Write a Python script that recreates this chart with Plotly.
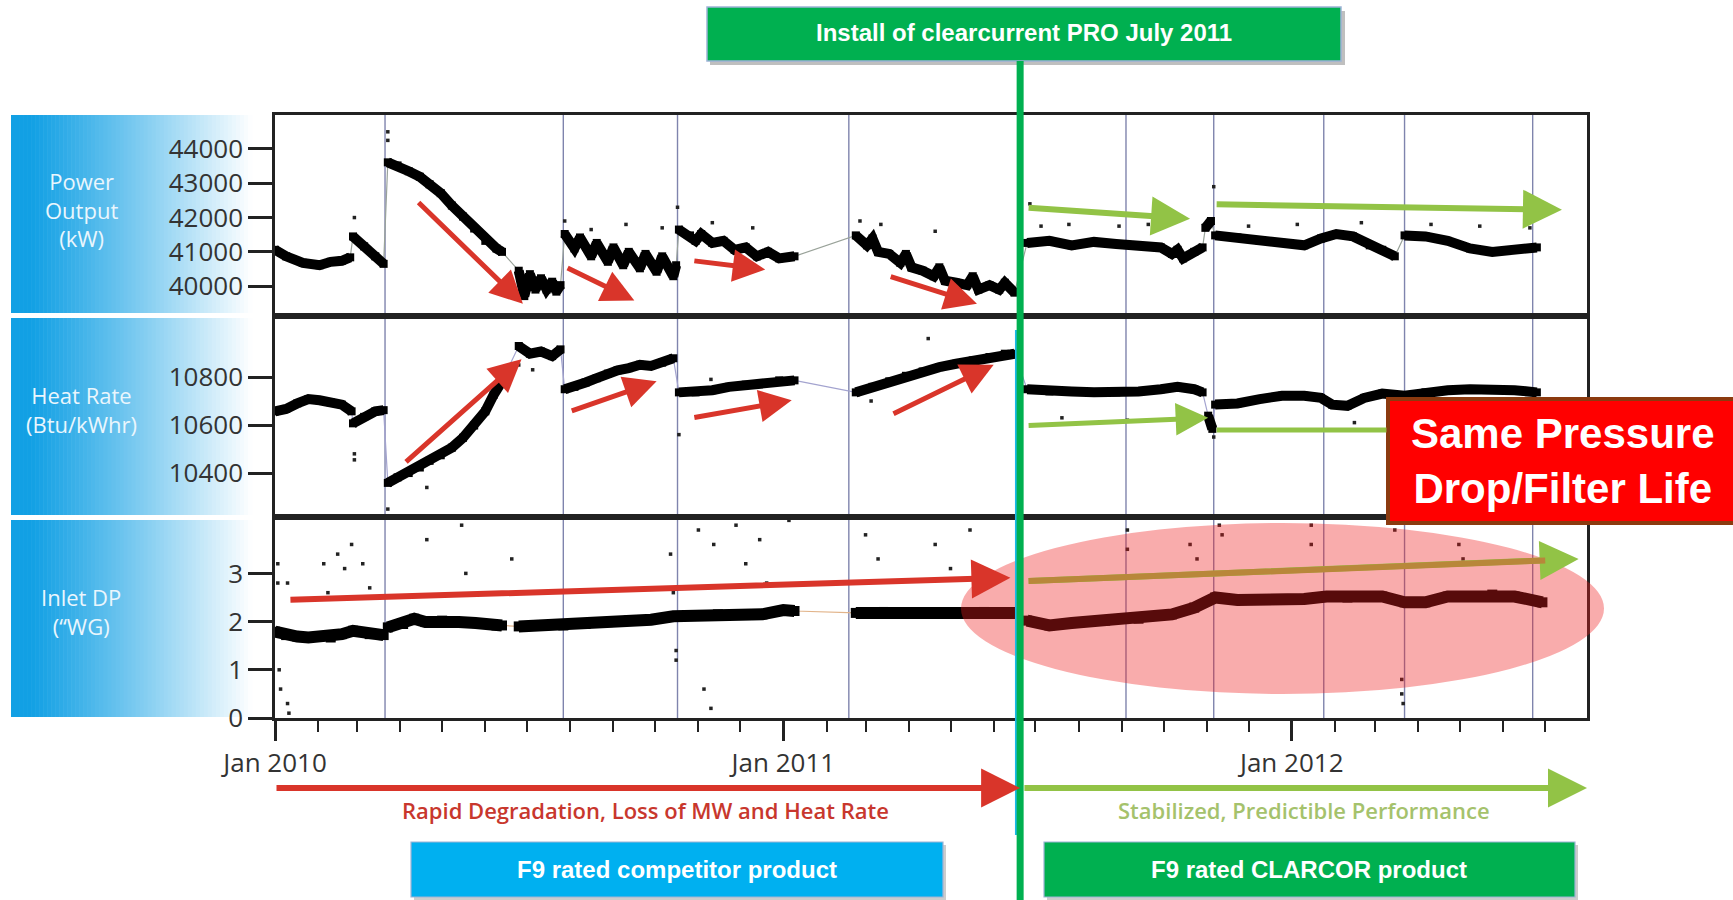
import plotly.graph_objects as go
from plotly.subplots import make_subplots

# ---------------- DATA ----------------
power_dates = [
    "2010-01-01", "2010-01-09", "2010-01-21", "2010-02-02", "2010-02-10", "2010-02-18", "2010-02-24", None,
    "2010-02-26", "2010-03-06", "2010-03-14", "2010-03-20", None,
    "2010-03-23", "2010-03-30", "2010-04-07", "2010-04-15", "2010-04-22", "2010-04-30", "2010-05-08",
    "2010-05-16", "2010-05-24", "2010-06-01", "2010-06-09", "2010-06-13", None,
    "2010-06-25", "2010-06-29", "2010-07-03", "2010-07-07", "2010-07-11", "2010-07-15", "2010-07-19",
    "2010-07-22", "2010-07-25", None,
    "2010-07-28", "2010-08-04", "2010-08-08", "2010-08-16", "2010-08-20", "2010-08-28", "2010-09-01",
    "2010-09-08", "2010-09-12", "2010-09-20", "2010-09-24", "2010-10-02", "2010-10-06", "2010-10-14",
    "2010-10-16", None,
    "2010-10-18", "2010-10-26", "2010-10-30", "2010-11-03", "2010-11-11", "2010-11-19", "2010-11-27",
    "2010-12-05", "2010-12-13", "2010-12-21", "2010-12-29", "2011-01-09", None,
    "2011-02-22", "2011-03-02", "2011-03-06", "2011-03-10", "2011-03-18", "2011-03-26", "2011-03-30",
    "2011-04-03", "2011-04-11", "2011-04-19", "2011-04-23", "2011-04-27", "2011-05-05", "2011-05-13",
    "2011-05-17", "2011-05-21", "2011-05-29", "2011-06-05", "2011-06-09", "2011-06-16", None,
    "2011-06-25", "2011-07-11", "2011-07-27", "2011-08-12", "2011-08-28", "2011-09-13", "2011-09-29",
    "2011-10-07", "2011-10-11", "2011-10-15", "2011-10-23", "2011-10-29", None,
    "2011-10-31", "2011-11-04", None,
    "2011-11-07", "2011-11-23", "2011-12-09", "2011-12-25", "2012-01-10", "2012-01-22", "2012-02-02",
    "2012-02-14", "2012-02-26", "2012-03-06", "2012-03-15", None,
    "2012-03-22", "2012-04-06", "2012-04-22", "2012-05-08", "2012-05-24", "2012-06-09", "2012-06-25",
]
power_kw = [
    41060, 40870, 40680, 40610, 40710, 40740, 40840, None,
    41450, 41160, 40870, 40650, None,
    43610, 43520, 43350, 43190, 42970, 42710, 42350, 42030, 41680, 41320, 41100, 41000, None,
    40450, 39710, 40350, 39900, 40230, 39900, 40130, 39840, 40030, None,
    41520, 41100, 41420, 40870, 41260, 40710, 41130, 40610, 41000, 40520, 40940, 40420, 40870, 40290, 40610, None,
    41650, 41480, 41320, 41520, 41260, 41320, 41060, 41130, 40870, 41000, 40810, 40870, None,
    41480, 41190, 41390, 41000, 40940, 40680, 40940, 40550, 40450, 40290, 40550, 40160, 40100, 40030,
    40290, 39900, 40030, 39900, 40100, 39810, None,
    41260, 41320, 41190, 41290, 41230, 41190, 41130, 40940, 41060, 40810, 41000, 41130, None,
    41700, 41900, None,
    41480, 41420, 41320, 41260, 41190, 41390, 41520, 41450, 41190, 41060, 40870, None,
    41480, 41450, 41320, 41100, 41000, 41060, 41130,
]
power_outlier_dates = [
    "2010-02-27", "2010-03-23", "2010-03-23", "2010-07-28", "2010-08-16", "2010-09-10", "2010-10-06",
    "2010-10-17", "2010-11-11", "2010-12-10", "2011-02-25", "2011-03-12", "2011-04-20", "2011-06-27",
    "2011-07-05", "2011-07-25", "2011-08-30", "2011-09-20", "2011-11-06", "2011-12-01", "2012-01-05",
    "2012-02-20", "2012-04-10", "2012-05-15", "2012-06-20",
]
power_outlier_kw = [
    42000, 44500, 44250, 41900, 41650, 41800, 41700, 42300, 41850, 41700, 41900, 41800, 41600, 42400,
    41750, 41800, 41750, 41800, 42900, 41750, 41800, 41850, 41800, 41750, 41700,
]

heat_dates = [
    "2010-01-01", "2010-01-09", "2010-01-17", "2010-01-25", "2010-02-02", "2010-02-10", "2010-02-18", "2010-02-25", None,
    "2010-02-26", "2010-03-06", "2010-03-14", "2010-03-20", None,
    "2010-03-23", "2010-03-30", "2010-04-07", "2010-04-15", "2010-04-22", "2010-04-30", "2010-05-08",
    "2010-05-16", "2010-05-24", "2010-06-01", "2010-06-07", "2010-06-13", None,
    "2010-06-25", "2010-07-03", "2010-07-11", "2010-07-19", "2010-07-25", None,
    "2010-07-28", "2010-08-04", "2010-08-12", "2010-08-20", "2010-08-28", "2010-09-04", "2010-09-12",
    "2010-09-20", "2010-09-28", "2010-10-06", "2010-10-14", None,
    "2010-10-18", "2010-10-30", "2010-11-11", "2010-11-23", "2010-12-05", "2010-12-17", "2010-12-29", "2011-01-09", None,
    "2011-02-22", "2011-03-06", "2011-03-18", "2011-03-30", "2011-04-11", "2011-04-23", "2011-05-05",
    "2011-05-17", "2011-05-29", "2011-06-09", "2011-06-16", None,
    "2011-06-25", "2011-07-11", "2011-07-27", "2011-08-12", "2011-08-28", "2011-09-13", "2011-09-29",
    "2011-10-11", "2011-10-23", "2011-10-29", None,
    "2011-11-02", "2011-11-05", None,
    "2011-11-07", "2011-11-23", "2011-12-09", "2011-12-25", "2012-01-10", "2012-01-22", "2012-01-30",
    "2012-02-10", "2012-02-22", "2012-03-06", "2012-03-22", "2012-04-06", "2012-04-22", "2012-05-08",
    "2012-05-24", "2012-06-09", "2012-06-25",
]
heat_rate = [
    10657, 10667, 10690, 10708, 10703, 10694, 10685, 10657, None,
    10607, 10634, 10657, 10662, None,
    10359, 10382, 10400, 10423, 10451, 10474, 10506, 10547, 10598, 10657, 10726, 10782, None,
    10929, 10897, 10906, 10887, 10915, None,
    10749, 10759, 10777, 10795, 10814, 10828, 10837, 10851, 10846, 10860, 10878, None,
    10736, 10736, 10745, 10759, 10768, 10772, 10786, 10786, None,
    10736, 10759, 10782, 10805, 10823, 10841, 10855, 10869, 10883, 10897, 10897, None,
    10749, 10740, 10740, 10736, 10736, 10740, 10749, 10759, 10749, 10736, None,
    10639, 10584, None,
    10685, 10690, 10708, 10722, 10722, 10713, 10685, 10680, 10713, 10731, 10722, 10736, 10745, 10749,
    10749, 10745, 10736,
]
heat_outlier_dates = [
    "2010-02-27", "2010-02-27", "2010-03-23", "2010-04-20", "2010-06-25", "2010-07-05", "2010-10-18",
    "2010-11-10", "2011-03-05", "2011-04-15", "2011-07-20", "2011-09-05", "2011-11-06", "2012-02-15",
]
heat_outlier_btu = [
    10480, 10455, 10250, 10340, 10850, 10830, 10560, 10790, 10700, 10960, 10630, 10620, 10550, 10610,
]

dp_dates = [
    "2010-01-01", "2010-01-09", "2010-01-17", "2010-01-25", "2010-02-02", "2010-02-10", "2010-02-18",
    "2010-02-26", "2010-03-10", "2010-03-20", None,
    "2010-03-23", "2010-04-03", "2010-04-11", "2010-04-19", "2010-05-01", "2010-05-13", "2010-05-25",
    "2010-06-09", "2010-06-13", None,
    "2010-06-25", "2010-07-11", "2010-07-27", "2010-08-12", "2010-08-28", "2010-09-12", "2010-09-28",
    "2010-10-14", "2010-10-30", "2010-11-15", "2010-12-01", "2010-12-17", "2011-01-01", "2011-01-09", None,
    "2011-02-22", "2011-03-14", "2011-04-07", "2011-05-01", "2011-05-25", "2011-06-18", None,
    "2011-06-25", "2011-07-11", "2011-07-27", "2011-08-20", "2011-09-13", "2011-10-07", "2011-10-23",
    "2011-11-07", "2011-11-23", "2011-12-17", "2012-01-10", "2012-01-26", "2012-02-10", "2012-03-06",
    "2012-03-22", "2012-04-06", "2012-04-22", "2012-05-08", "2012-05-24", "2012-06-09", "2012-06-29",
]
dp_inwg = [
    1.79, 1.72, 1.69, 1.67, 1.69, 1.67, 1.74, 1.81, 1.74, 1.72, None,
    1.88, 1.95, 2.06, 1.99, 2.02, 1.99, 1.97, 1.92, 1.92, None,
    1.90, 1.92, 1.92, 1.95, 1.99, 2.02, 2.04, 2.11, 2.13, 2.15, 2.15, 2.15, 2.24, 2.22, None,
    2.18, 2.20, 2.18, 2.18, 2.20, 2.18, None,
    2.02, 1.92, 1.97, 2.02, 2.06, 2.15, 2.29, 2.50, 2.45, 2.45, 2.47, 2.52, 2.50, 2.52, 2.40, 2.40,
    2.52, 2.52, 2.56, 2.52, 2.40,
]
dp_outlier_dates = [
    "2010-01-03", "2010-01-03", "2010-01-04", "2010-01-05", "2010-01-10", "2010-01-11", "2010-01-10",
    "2010-02-05", "2010-02-08", "2010-02-15", "2010-02-20", "2010-02-25", "2010-03-05", "2010-03-10",
    "2010-04-20", "2010-05-15", "2010-05-18", "2010-06-20", "2010-10-12", "2010-10-14", "2010-10-16",
    "2010-10-16", "2010-11-01", "2010-11-05", "2010-11-10", "2010-11-12", "2010-11-28", "2010-12-05",
    "2010-12-15", "2010-12-20", "2011-01-05", "2011-03-01", "2011-03-10", "2011-04-20", "2011-05-01",
    "2011-05-15", "2011-09-05", "2011-09-05", "2011-10-20", "2011-10-25", "2011-11-10", "2011-11-12",
    "2012-01-15", "2012-01-15", "2012-03-15", "2012-03-20", "2012-03-20", "2012-03-21", "2012-04-30",
    "2012-05-03",
]
dp_outlier_inwg = [
    3.2, 2.8, 1.0, 0.6, 0.3, 0.1, 2.8, 3.2, 2.6, 3.4, 3.1, 3.6, 3.2, 2.7, 3.7, 4.0, 3.0, 3.3, 3.4, 2.6,
    1.4, 1.2, 3.9, 0.6, 0.2, 3.6, 4.0, 3.2, 3.7, 2.8, 4.1, 3.8, 3.3, 3.6, 3.1, 3.9, 3.9, 3.5, 3.6, 3.3,
    4.0, 3.8, 4.0, 3.6, 3.9, 0.8, 0.5, 0.3, 3.6, 3.3,
]

event_dates = ["2010-03-21", "2010-07-27", "2010-10-17", "2011-02-17", "2011-09-04",
               "2011-11-06", "2012-01-24", "2012-03-22", "2012-06-22"]
install_date = "2011-06-20"

# trend arrows: (panel, tail date, tail value, head date, head value, color, has_head)
RED, GREEN, BROWN = "#D9352A", "#92C346", "#B8873A"
trend_arrows = [
    (1, "2010-04-13", 42484, "2010-06-28", 39484, RED, True),
    (1, "2010-07-29", 40548, "2010-09-16", 39580, RED, True),
    (1, "2010-10-28", 40742, "2010-12-19", 40484, RED, True),
    (1, "2011-03-18", 40290, "2011-05-20", 39484, RED, True),
    (1, "2011-06-25", 42290, "2011-10-20", 41968, GREEN, True),
    (1, "2011-11-07", 42387, "2012-07-13", 42226, GREEN, True),
    (2, "2010-04-04", 10441, "2010-06-27", 10874, RED, True),
    (2, "2010-08-01", 10657, "2010-10-02", 10782, RED, True),
    (2, "2010-10-28", 10630, "2011-01-07", 10703, RED, True),
    (2, "2011-03-20", 10644, "2011-06-01", 10851, RED, True),
    (2, "2011-06-25", 10598, "2011-11-02", 10630, GREEN, True),
    (2, "2011-11-07", 10579, "2012-03-09", 10579, GREEN, False),
    (3, "2010-01-11", 2.45, "2011-06-13", 2.91, RED, True),
    (3, "2011-06-25", 2.84, "2012-07-25", 3.30, GREEN, True),
    (3, "2011-06-25", 2.84, "2012-07-01", 3.27, BROWN, False),
]

y_ranges = [[39130, 44990], [10217, 11054], [0, 4.17]]
y_ticks = [[40000, 41000, 42000, 43000, 44000], [10400, 10600, 10800], [0, 1, 2, 3]]
panel_labels = ["Power<br>Output<br>(kW)", "Heat Rate<br>(Btu/kWhr)", "Inlet DP<br>(\u201cWG)"]

# ---------------- LAYOUT HELPERS ----------------
W, H = 1733, 900
ML, MR, MT, MB = 275, 146, 115, 182
PW, PH = W - ML - MR, H - MT - MB


def px(x):
    return (x - ML) / PW


def py(y):
    return (H - MB - y) / PH


fig = make_subplots(rows=3, cols=1, shared_xaxes=True, vertical_spacing=0)

series = [
    (power_dates, power_kw, power_outlier_dates, power_outlier_kw, "#9aa39a", 10),
    (heat_dates, heat_rate, heat_outlier_dates, heat_outlier_btu, "#a3a3cf", 10),
    (dp_dates, dp_inwg, dp_outlier_dates, dp_outlier_inwg, "#e2b48a", 12),
]
for i, (xs, ys, ox, oy, ccol, lw) in enumerate(series, start=1):
    assert len(xs) == len(ys)
    cx = [a for a in xs if a is not None]
    cy = [b for b in ys if b is not None]
    fig.add_trace(go.Scatter(x=cx, y=cy, mode="lines", line=dict(color=ccol, width=1.2),
                             hoverinfo="skip", showlegend=False), row=i, col=1)
    fig.add_trace(go.Scatter(x=xs, y=ys, mode="lines+markers", connectgaps=False,
                             line=dict(color="black", width=lw, shape="linear"),
                             marker=dict(color="black", size=lw - 2, symbol="square"),
                             showlegend=False), row=i, col=1)
    fig.add_trace(go.Scatter(x=ox, y=oy, mode="markers",
                             marker=dict(color="#222", size=3.5, symbol="square"),
                             showlegend=False), row=i, col=1)

axis_font = dict(family="Open Sans, Lato, sans-serif", size=26, color="#333")
for i in range(1, 4):
    fig.update_yaxes(row=i, col=1, range=y_ranges[i - 1], tickvals=y_ticks[i - 1], tickformat="d",
                     ticks="outside", ticklen=24, tickwidth=2.5, tickcolor="#222",
                     showline=True, mirror=True, linecolor="#222", linewidth=2.5,
                     showgrid=False, zeroline=False, tickfont=axis_font, fixedrange=True)
    fig.update_xaxes(row=i, col=1, range=["2010-01-01", "2012-07-31"], type="date",
                     showline=True, mirror=True, linecolor="#222", linewidth=2.5,
                     showgrid=False, zeroline=False, ticks="", showticklabels=False)
fig.update_xaxes(row=3, col=1, ticks="outside", ticklen=20, tickwidth=2.5, tickcolor="#222",
                 showticklabels=True, tick0="2010-01-01", dtick="M12", tickformat="%b %Y",
                 tickfont=axis_font,
                 minor=dict(ticks="outside", dtick="M1", ticklen=11, tickwidth=2, tickcolor="#222"))

shapes = []
# left gradient label boxes
boxes = [(115, 313), (318, 515), (520, 717)]
N = 60
x_start, x_end = 11, 252
base = (18, 160, 228)
for (top, bot) in boxes:
    for k in range(N):
        t = (k + 0.5) / N
        f = max(0.0, (t - 0.08) / 0.92) ** 1.1
        c = tuple(int(round(b * (1 - f) + 255 * f)) for b in base)
        xa = x_start + (x_end - x_start) * k / N
        xb = x_start + (x_end - x_start) * (k + 1) / N + 0.6
        shapes.append(dict(type="rect", xref="paper", yref="paper", x0=px(xa), x1=px(xb),
                           y0=py(bot), y1=py(top), fillcolor="rgb(%d,%d,%d)" % c,
                           line=dict(width=0), layer="below"))

# event lines
for d in event_dates:
    for yr in ["y domain", "y2 domain", "y3 domain"]:
        shapes.append(dict(type="line", xref="x", yref=yr, x0=d, x1=d, y0=0, y1=1,
                           line=dict(color="#7f84ad", width=1.4), layer="below"))

# red ellipse
shapes.append(dict(type="circle", xref="paper", yref="paper", x0=px(961), x1=px(1604),
                   y0=py(694), y1=py(523), fillcolor="rgba(240,30,30,0.37)",
                   line=dict(width=0), layer="above"))
# red callout
shapes.append(dict(type="rect", xref="paper", yref="paper", x0=px(1388), x1=px(1750),
                   y0=py(523), y1=py(399), fillcolor="#FF0000",
                   line=dict(color="#8B3A0F", width=4), layer="above"))
# top green box with shadow
shapes.append(dict(type="rect", xref="paper", yref="paper", x0=px(710), x1=px(1345),
                   y0=py(65), y1=py(11), fillcolor="rgba(0,0,0,0.25)", line=dict(width=0)))
shapes.append(dict(type="rect", xref="paper", yref="paper", x0=px(707), x1=px(1341),
                   y0=py(61), y1=py(7), fillcolor="#00B050", line=dict(color="#9DB3D6", width=1.5)))
# bottom boxes
for (xa, xb, col) in [(411, 943, "#00B0F0"), (1044, 1575, "#00B050")]:
    shapes.append(dict(type="rect", xref="paper", yref="paper", x0=px(xa + 3), x1=px(xb + 3),
                       y0=py(900), y1=py(845), fillcolor="rgba(0,0,0,0.2)", line=dict(width=0)))
    shapes.append(dict(type="rect", xref="paper", yref="paper", x0=px(xa), x1=px(xb),
                       y0=py(897), y1=py(842), fillcolor=col, line=dict(color="#9DB3D6", width=1.2)))
# thin cyan edge + install line
shapes.append(dict(type="line", xref="x", yref="paper", x0="2011-06-17", x1="2011-06-17",
                   y0=py(835), y1=py(330), line=dict(color="#19B8E8", width=2), layer="above"))
shapes.append(dict(type="line", xref="x", yref="paper", x0=install_date, x1=install_date,
                   y0=py(900), y1=py(61), line=dict(color="#00B050", width=7), layer="above"))

annotations = []
# trend arrows
yrefs = {1: "y", 2: "y2", 3: "y3"}
for (p, tx, tv, hx, hv, col, head) in trend_arrows:
    big = (p == 1 and col == GREEN) or p == 3
    annotations.append(dict(x=hx, y=hv, ax=tx, ay=tv, xref="x", yref=yrefs[p],
                            axref="x", ayref=yrefs[p], text="", showarrow=True,
                            arrowhead=2 if head else 0, arrowsize=1.3,
                            arrowwidth=6 if big else 5, arrowcolor=col, standoff=0))
# bottom long arrows
annotations.append(dict(x=install_date, y=py(788), yref="paper", xref="x", ax="2010-01-01", ay=0,
                        axref="x", ayref="pixel", text="", showarrow=True, arrowhead=2,
                        arrowsize=1.3, arrowwidth=6, arrowcolor=RED, standoff=0))
annotations.append(dict(x="2012-07-31", y=py(788), yref="paper", xref="x", ax="2011-06-22", ay=0,
                        axref="x", ayref="pixel", text="", showarrow=True, arrowhead=2,
                        arrowsize=1.3, arrowwidth=6, arrowcolor=GREEN, standoff=0))


def label(xp, yp, text, font):
    return dict(x=px(xp), y=py(yp), xref="paper", yref="paper", showarrow=False, text=text,
                xanchor="center", yanchor="middle", align="center", font=font)


ge_font = "Open Sans, Lato, sans-serif"
box_font = "Liberation Sans Narrow, Arial Narrow, Liberation Sans, Arial, sans-serif"
annotations += [
    label(645, 810, "Rapid Degradation, Loss of MW and Heat Rate",
          dict(family=ge_font, size=22, color="#C8372D", weight=600)),
    label(1304, 810, "Stabilized, Predictible Performance",
          dict(family=ge_font, size=22, color="#A5C26C", weight=600)),
    label(1024, 33, "<b>Install of clearcurrent PRO July 2011</b>",
          dict(family=box_font, size=24, color="white")),
    label(677, 869, "<b>F9 rated competitor product</b>",
          dict(family=box_font, size=24, color="white")),
    label(1309, 869, "<b>F9 rated CLARCOR product</b>",
          dict(family=box_font, size=24, color="white")),
    label(1563, 461, "<b>Same Pressure<br>Drop/Filter Life</b>",
          dict(family=box_font, size=42, color="white")),
]
label_y = [210, 409, 611]
for lab, yy in zip(panel_labels, label_y):
    annotations.append(label(81, yy, lab, dict(family=ge_font, size=22, color="#EAF6FD")))

fig.update_layout(width=W, height=H, autosize=False,
                  margin=dict(l=ML, r=MR, t=MT, b=MB, pad=0),
                  plot_bgcolor="white", paper_bgcolor="white",
                  shapes=shapes, annotations=annotations, showlegend=False)

fig.write_html("out.html", config={"displayModeBar": False},
               post_script="document.body.style.margin='0px';")
